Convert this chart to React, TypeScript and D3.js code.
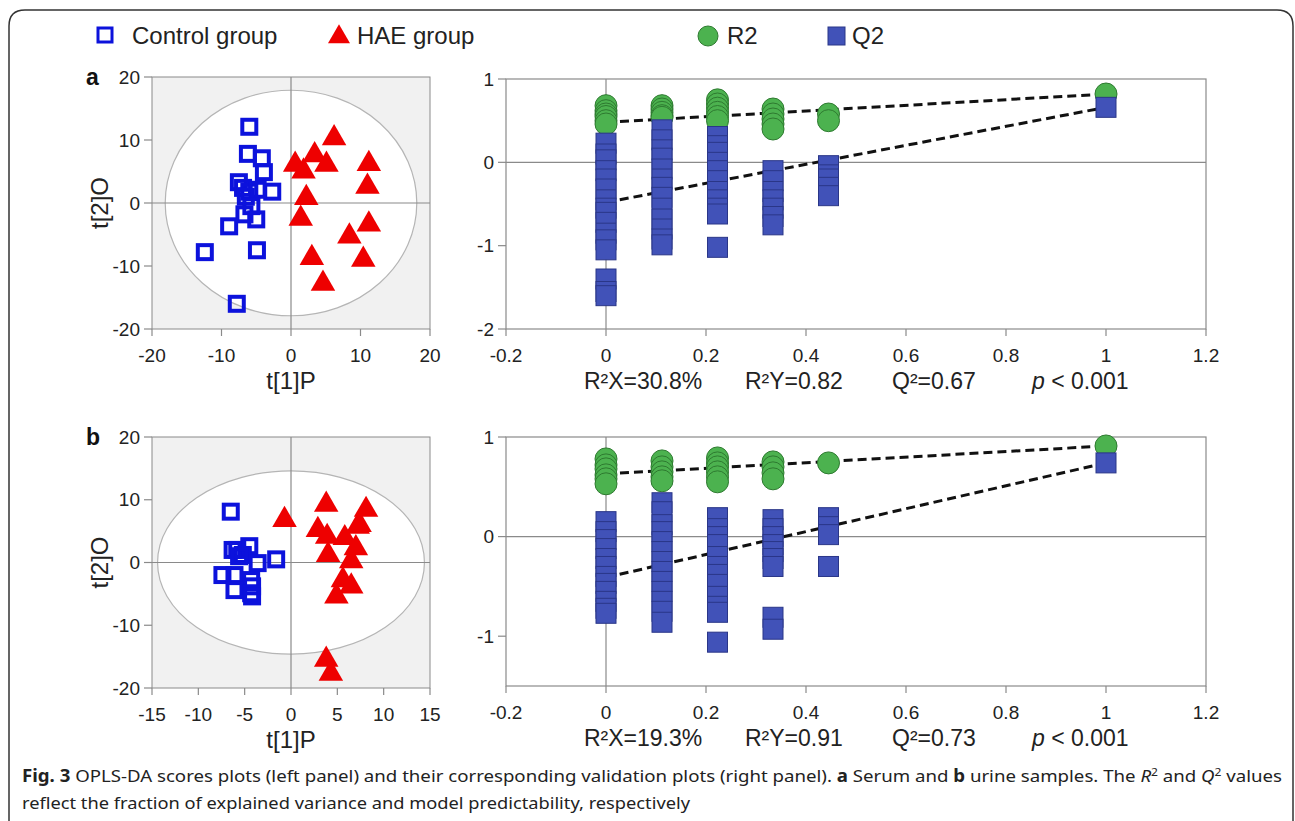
import React from 'react';
import * as d3 from 'd3';

// ---- scores plot data (t[1]P, t[2]O) ----
const serumControl: [number, number][] = [
  [-6.0, 12.1], [-6.2, 7.8], [-4.2, 7.1], [-3.9, 4.9], [-7.5, 3.3], [-2.7, 1.8],
  [-6.0, 1.8], [-4.8, 2.1], [-6.9, 2.4], [-6.5, 1.0], [-5.7, -0.5], [-6.7, -1.8],
  [-5.0, -2.6], [-8.9, -3.7], [-4.9, -7.5], [-12.4, -7.8], [-7.8, -16.0],
];
const serumHAE: [number, number][] = [
  [6.2, 10.3], [3.4, 7.6], [5.1, 6.1], [0.6, 6.1], [1.8, 5.0], [11.2, 6.2],
  [11.0, 2.6], [2.2, 0.8], [1.4, -2.5], [11.2, -3.4], [8.4, -5.3], [3.0, -8.7],
  [10.4, -9.0], [4.6, -12.8],
];
const urineControl: [number, number][] = [
  [-6.5, 8.1], [-5.8, 2.0], [-4.5, 2.6], [-5.2, 1.2], [-6.3, 2.0], [-5.6, 1.0],
  [-1.6, 0.5], [-3.6, -0.1], [-7.4, -2.0], [-6.1, -2.0], [-4.3, -2.8], [-4.2, -3.8],
  [-6.1, -4.4], [-4.3, -4.9], [-4.2, -5.4],
];
const urineHAE: [number, number][] = [
  [-0.7, 6.8], [3.8, 9.2], [8.1, 8.4], [2.9, 5.2], [3.9, 4.1], [5.8, 3.9],
  [7.2, 5.7], [7.4, 6.0], [7.0, 2.3], [4.0, 1.2], [6.5, 0.2], [5.6, -2.8],
  [6.5, -3.8], [4.9, -5.4], [3.8, -15.5], [4.3, -17.7],
];

// ---- permutation test data ----
const permX = [0, 0.112, 0.223, 0.334, 0.445];
const serumR2: number[][] = [
  [0.68, 0.62, 0.58, 0.55, 0.5, 0.46],
  [0.68, 0.64, 0.6, 0.56, 0.54],
  [0.75, 0.7, 0.65, 0.6, 0.55, 0.5],
  [0.64, 0.58, 0.52, 0.46, 0.4],
  [0.58, 0.5],
];
const serumQ2: number[][] = [
  [0.23, 0.1, 0.03, -0.1, -0.2, -0.32, -0.45, -0.55, -0.6, -0.72, -0.85, -0.93, -1.05, -1.4, -1.55, -1.6],
  [0.39, 0.27, 0.15, 0.05, -0.08, -0.2, -0.3, -0.42, -0.55, -0.68, -0.8, -0.92, -0.99],
  [0.31, 0.2, 0.12, 0.0, -0.1, -0.22, -0.35, -0.45, -0.55, -0.62, -1.02],
  [-0.1, -0.22, -0.35, -0.45, -0.55, -0.65, -0.75],
  [-0.04, -0.15, -0.2, -0.3, -0.4],
];
const urineR2: number[][] = [
  [0.78, 0.72, 0.68, 0.62, 0.58, 0.53],
  [0.76, 0.7, 0.65, 0.6, 0.56],
  [0.79, 0.74, 0.7, 0.65, 0.6, 0.55],
  [0.75, 0.7, 0.64, 0.58],
  [0.74],
];
const urineQ2: number[][] = [
  [0.15, 0.05, -0.03, -0.12, -0.22, -0.3, -0.4, -0.47, -0.55, -0.65, -0.72, -0.77],
  [0.34, 0.25, 0.12, 0.05, -0.05, -0.15, -0.25, -0.35, -0.45, -0.55, -0.65, -0.75, -0.86],
  [0.19, 0.08, 0.0, -0.08, -0.2, -0.3, -0.38, -0.48, -0.6, -0.7, -0.76, -1.06],
  [0.17, 0.08, 0.0, -0.08, -0.15, -0.22, -0.3, -0.81, -0.93],
  [0.19, 0.1, 0.02, -0.3],
];
// [R2 model, Q2 model, R2 intercept, Q2 intercept]
const serumModel = [0.82, 0.66, 0.48, -0.48];
const urineModel = [0.91, 0.74, 0.63, -0.41];

const serumStats = ['R²X=30.8%', 'R²Y=0.82', 'Q²=0.67'];
const urineStats = ['R²X=19.3%', 'R²Y=0.91', 'Q²=0.73'];

// ---- tick labels ----
const scoreYTicks = [-20, -10, 0, 10, 20];
const serumXTicks = [-20, -10, 0, 10, 20];
const urineXTicks = [-15, -10, -5, 0, 5, 10, 15];
const permXTicks = [-0.2, 0, 0.2, 0.4, 0.6, 0.8, 1, 1.2];
const serumPermYTicks = [-2, -1, 0, 1];
const urinePermYTicks = [-1, 0, 1];

const FONT = "'Liberation Sans', Arial, sans-serif";
const AXIS = '#8a8a8a';
const fmt = (d: number) => String(+d.toFixed(1));

const triangle = d3.symbol().type(d3.symbolTriangle).size(260)()!;

function yTicksEl(ticks: number[], y: any, left: number) {
  return ticks.map((t) => (
    <g key={'y' + t}>
      <line x1={left - 8} x2={left} y1={y(t)} y2={y(t)} stroke={AXIS} strokeWidth={1.2} />
      <text x={left - 12} y={y(t)} dy="0.35em" textAnchor="end" fontSize={19} fill="#222">{fmt(t)}</text>
    </g>
  ));
}

function xTicksEl(ticks: number[], x: any, bottom: number) {
  return ticks.map((t) => (
    <g key={'x' + t}>
      <line x1={x(t)} x2={x(t)} y1={bottom} y2={bottom + 7} stroke={AXIS} strokeWidth={1.2} />
      <text x={x(t)} y={bottom + 33} textAnchor="middle" fontSize={19} fill="#222">{fmt(t)}</text>
    </g>
  ));
}

function ScoresPlot({ top, bottom, xDomain, xTicks, control, hae, radius, letter }: any) {
  const left = 152, right = 430;
  const x = d3.scaleLinear().domain(xDomain).range([left, right]);
  const y = d3.scaleLinear().domain([-20, 20]).range([bottom, top]);
  return (
    <g fontFamily={FONT}>
      <rect x={left} y={top} width={right - left} height={bottom - top} fill="#f1f1f1" stroke={AXIS} strokeWidth={1} />
      <ellipse cx={x(0)} cy={y(0)} rx={x(radius[0]) - x(0)} ry={y(0) - y(radius[1])} fill="#fff" stroke="#b5b5b5" strokeWidth={1.2} />
      <line x1={x(0)} x2={x(0)} y1={top} y2={bottom} stroke={AXIS} strokeWidth={1.2} />
      <line x1={left} x2={right} y1={y(0)} y2={y(0)} stroke={AXIS} strokeWidth={1.2} />
      {yTicksEl(scoreYTicks, y, left)}
      {xTicksEl(xTicks, x, bottom)}
      <text x={86} y={top + 8} fontSize={23} fontWeight="bold" fill="#111">{letter}</text>
      <text transform={`translate(108,${(top + bottom) / 2}) rotate(-90)`} textAnchor="middle" fontSize={24} fill="#222">t[2]O</text>
      <text x={(left + right) / 2} y={bottom + 60} textAnchor="middle" fontSize={24} fill="#222">t[1]P</text>
      {control.map((d: [number, number], i: number) => (
        <rect key={'c' + i} x={x(d[0]) - 7} y={y(d[1]) - 7} width={14} height={14} fill="none" stroke="#0c12dc" strokeWidth={4} />
      ))}
      {hae.map((d: [number, number], i: number) => (
        <path key={'h' + i} d={triangle} transform={`translate(${x(d[0])},${y(d[1])})`} fill="#ee0000" />
      ))}
    </g>
  );
}

function PermPlot({ top, bottom, yDomain, yTicks, r2, q2, model, stats }: any) {
  const left = 506, right = 1206;
  const x = d3.scaleLinear().domain([-0.2, 1.2]).range([left, right]);
  const y = d3.scaleLinear().domain(yDomain).range([bottom, top]);
  const line = d3.line<[number, number]>().x((d) => x(d[0])).y((d) => y(d[1]));
  const r2Line: [number, number][] = [[0, model[2]], [1, model[0]]];
  const q2Line: [number, number][] = [[0, model[3]], [1, model[1]]];
  const statX = [584, 745, 892];
  return (
    <g fontFamily={FONT}>
      <rect x={left} y={top} width={right - left} height={bottom - top} fill="#fff" stroke={AXIS} strokeWidth={1.2} />
      <line x1={x(0)} x2={x(0)} y1={top} y2={bottom} stroke={AXIS} strokeWidth={1.2} />
      <line x1={left} x2={right} y1={y(0)} y2={y(0)} stroke={AXIS} strokeWidth={1.2} />
      {yTicksEl(yTicks, y, left)}
      {xTicksEl(permXTicks, x, bottom)}
      <path d={line(r2Line)!} fill="none" stroke="#111" strokeWidth={3} strokeDasharray="9,5" />
      <path d={line(q2Line)!} fill="none" stroke="#111" strokeWidth={3} strokeDasharray="9,5" />
      {r2.map((col: number[], ci: number) =>
        col.map((v, i) => (
          <circle key={`r${ci}-${i}`} cx={x(permX[ci])} cy={y(v)} r={11} fill="#4cb24f" stroke="#2e7a30" strokeWidth={1} />
        ))
      )}
      <circle cx={x(1)} cy={y(model[0])} r={11} fill="#4cb24f" stroke="#2e7a30" strokeWidth={1} />
      {q2.map((col: number[], ci: number) =>
        col.map((v, i) => (
          <rect key={`q${ci}-${i}`} x={x(permX[ci]) - 10} y={y(v) - 10} width={20} height={20} fill="#4152b8" stroke="#2a3688" strokeWidth={1} />
        ))
      )}
      <rect x={x(1) - 10} y={y(model[1]) - 10} width={20} height={20} fill="#4152b8" stroke="#2a3688" strokeWidth={1} />
      {stats.map((s: string, i: number) => (
        <text key={s} x={statX[i]} y={bottom + 60} fontSize={23} fill="#222">{s}</text>
      ))}
      <text x={1032} y={bottom + 60} fontSize={23} fill="#222">
        <tspan fontStyle="italic">p</tspan> &lt; 0.001
      </text>
    </g>
  );
}

export default function App() {
  return (
    <svg width={1295} height={821} style={{ position: 'absolute', left: 0, top: 0, background: '#fff' }}>
      <path d="M9,821 V26 Q9,10 25,10 H1277 Q1293,10 1293,26 V821" fill="none" stroke="#333" strokeWidth={1.5} />
      {/* legend */}
      <g fontFamily={FONT} fontSize={24} fill="#222">
        <rect x={98} y={28} width={14} height={14} fill="none" stroke="#0c12dc" strokeWidth={3} />
        <text x={132} y={44}>Control group</text>
        <path d={d3.symbol().type(d3.symbolTriangle).size(210)()!} transform="translate(339,37)" fill="#ee0000" />
        <text x={357} y={44}>HAE group</text>
        <circle cx={708} cy={36} r={10} fill="#4cb24f" stroke="#2e7a30" />
        <text x={727} y={44}>R2</text>
        <rect x={828} y={27} width={17} height={18} fill="#4152b8" stroke="#2a3688" />
        <text x={852} y={44}>Q2</text>
      </g>
      <ScoresPlot top={77} bottom={329} xDomain={[-20, 20]} xTicks={serumXTicks} control={serumControl} hae={serumHAE} radius={[18.1, 17.9]} letter="a" />
      <PermPlot top={79} bottom={329} yDomain={[-2, 1]} yTicks={serumPermYTicks} r2={serumR2} q2={serumQ2} model={serumModel} stats={serumStats} />
      <ScoresPlot top={437} bottom={688} xDomain={[-15, 15]} xTicks={urineXTicks} control={urineControl} hae={urineHAE} radius={[14.4, 14.6]} letter="b" />
      <PermPlot top={437} bottom={686} yDomain={[-1.5, 1]} yTicks={urinePermYTicks} r2={urineR2} q2={urineQ2} model={urineModel} stats={urineStats} />
      {/* caption */}
      <g fontFamily="'Noto Sans', sans-serif" fontSize={17} fill="#222">
        <text x={22} y={782} textLength={1260} lengthAdjust="spacingAndGlyphs">
          <tspan fontWeight="bold">Fig. 3</tspan>
          {'  OPLS-DA scores plots (left panel) and their corresponding validation plots (right panel). '}
          <tspan fontWeight="bold">a</tspan>{' Serum and '}
          <tspan fontWeight="bold">b</tspan>{' urine samples. The '}
          <tspan fontStyle="italic">R</tspan><tspan dy={-6} fontSize={11}>2</tspan>
          <tspan dy={6}>{' and '}</tspan>
          <tspan fontStyle="italic">Q</tspan><tspan dy={-6} fontSize={11}>2</tspan>
          <tspan dy={6}>{' values'}</tspan>
        </text>
        <text x={22} y={809} textLength={668} lengthAdjust="spacingAndGlyphs">
          reflect the fraction of explained variance and model predictability, respectively
        </text>
      </g>
    </svg>
  );
}
